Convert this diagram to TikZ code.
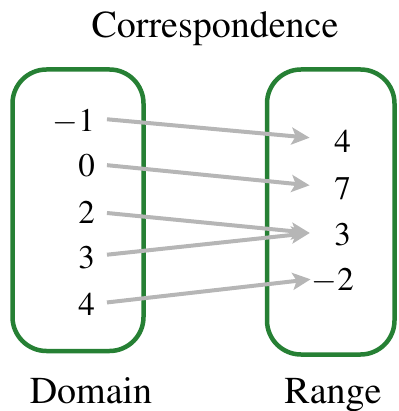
\documentclass[tikz,border=0pt]{standalone}
\usepackage[T1]{fontenc}
\usepackage{mathptmx}
\usetikzlibrary{positioning,arrows.meta}
\definecolor{setgreen}{RGB}{38,128,52}
\definecolor{mapgray}{RGB}{182,182,182}
\tikzset{
  setbox/.style={draw=setgreen, line width=4.5pt, rounded corners=34pt},
  elem/.style={inner sep=0pt, font=\fontsize{33}{40}\selectfont},
  relem/.style={elem, text width=40pt, align=right, anchor=base east},
  lelem/.style={elem, anchor=base east},
  caption/.style={inner sep=0pt, anchor=base, font=\fontsize{38}{45}\selectfont},
  mapto/.style={-{Stealth[length=18pt,width=17pt,inset=4pt]}, line width=4pt,
    draw=mapgray, shorten <=12pt, shorten >=1pt},
}
\begin{document}
\begin{tikzpicture}[x=1pt,y=-1pt]
\useasboundingbox (0,0) rectangle (398,411);
% the two sets
\draw[setbox] (12.5,69.5) rectangle (143.5,351);
\draw[setbox] (267,69.5) rectangle (394.5,354.5);
\node[caption] (title) at (215,38) {Correspondence};
\node[caption] (dom) at (91,403) {Domain};
\node[caption] (ran) at (333,403) {Range};
% domain
\node[lelem] (dm1) at (95,132) {$-$1};
\node[lelem] (d0)  at (95,177) {0};
\node[lelem] (d2)  at (95,223) {2};
\node[lelem] (d3)  at (95,268) {3};
\node[lelem] (d4)  at (95,315) {4};
% range
\node[relem] (r4)  at (351,153) {4};
\node[relem] (r7)  at (351,200) {7};
\node[relem] (r3)  at (351,245) {3};
\node[relem] (rm2) at (352,290) {$-$2};
% the pairs
\draw[mapto] ([yshift=4pt]dm1.east) -- ([yshift=4pt]r4.west);
\draw[mapto] ([yshift=2pt]d0.east) -- ([yshift=4pt]r7.west);
\draw[mapto] (d2.east) -- ([yshift=1pt]r3.west);
\draw[mapto] ([yshift=1pt]d3.east) -- ([yshift=1pt]r3.west);
\draw[mapto] (d4.east) -- ([yshift=1pt]rm2.west);
\end{tikzpicture}
\end{document}
